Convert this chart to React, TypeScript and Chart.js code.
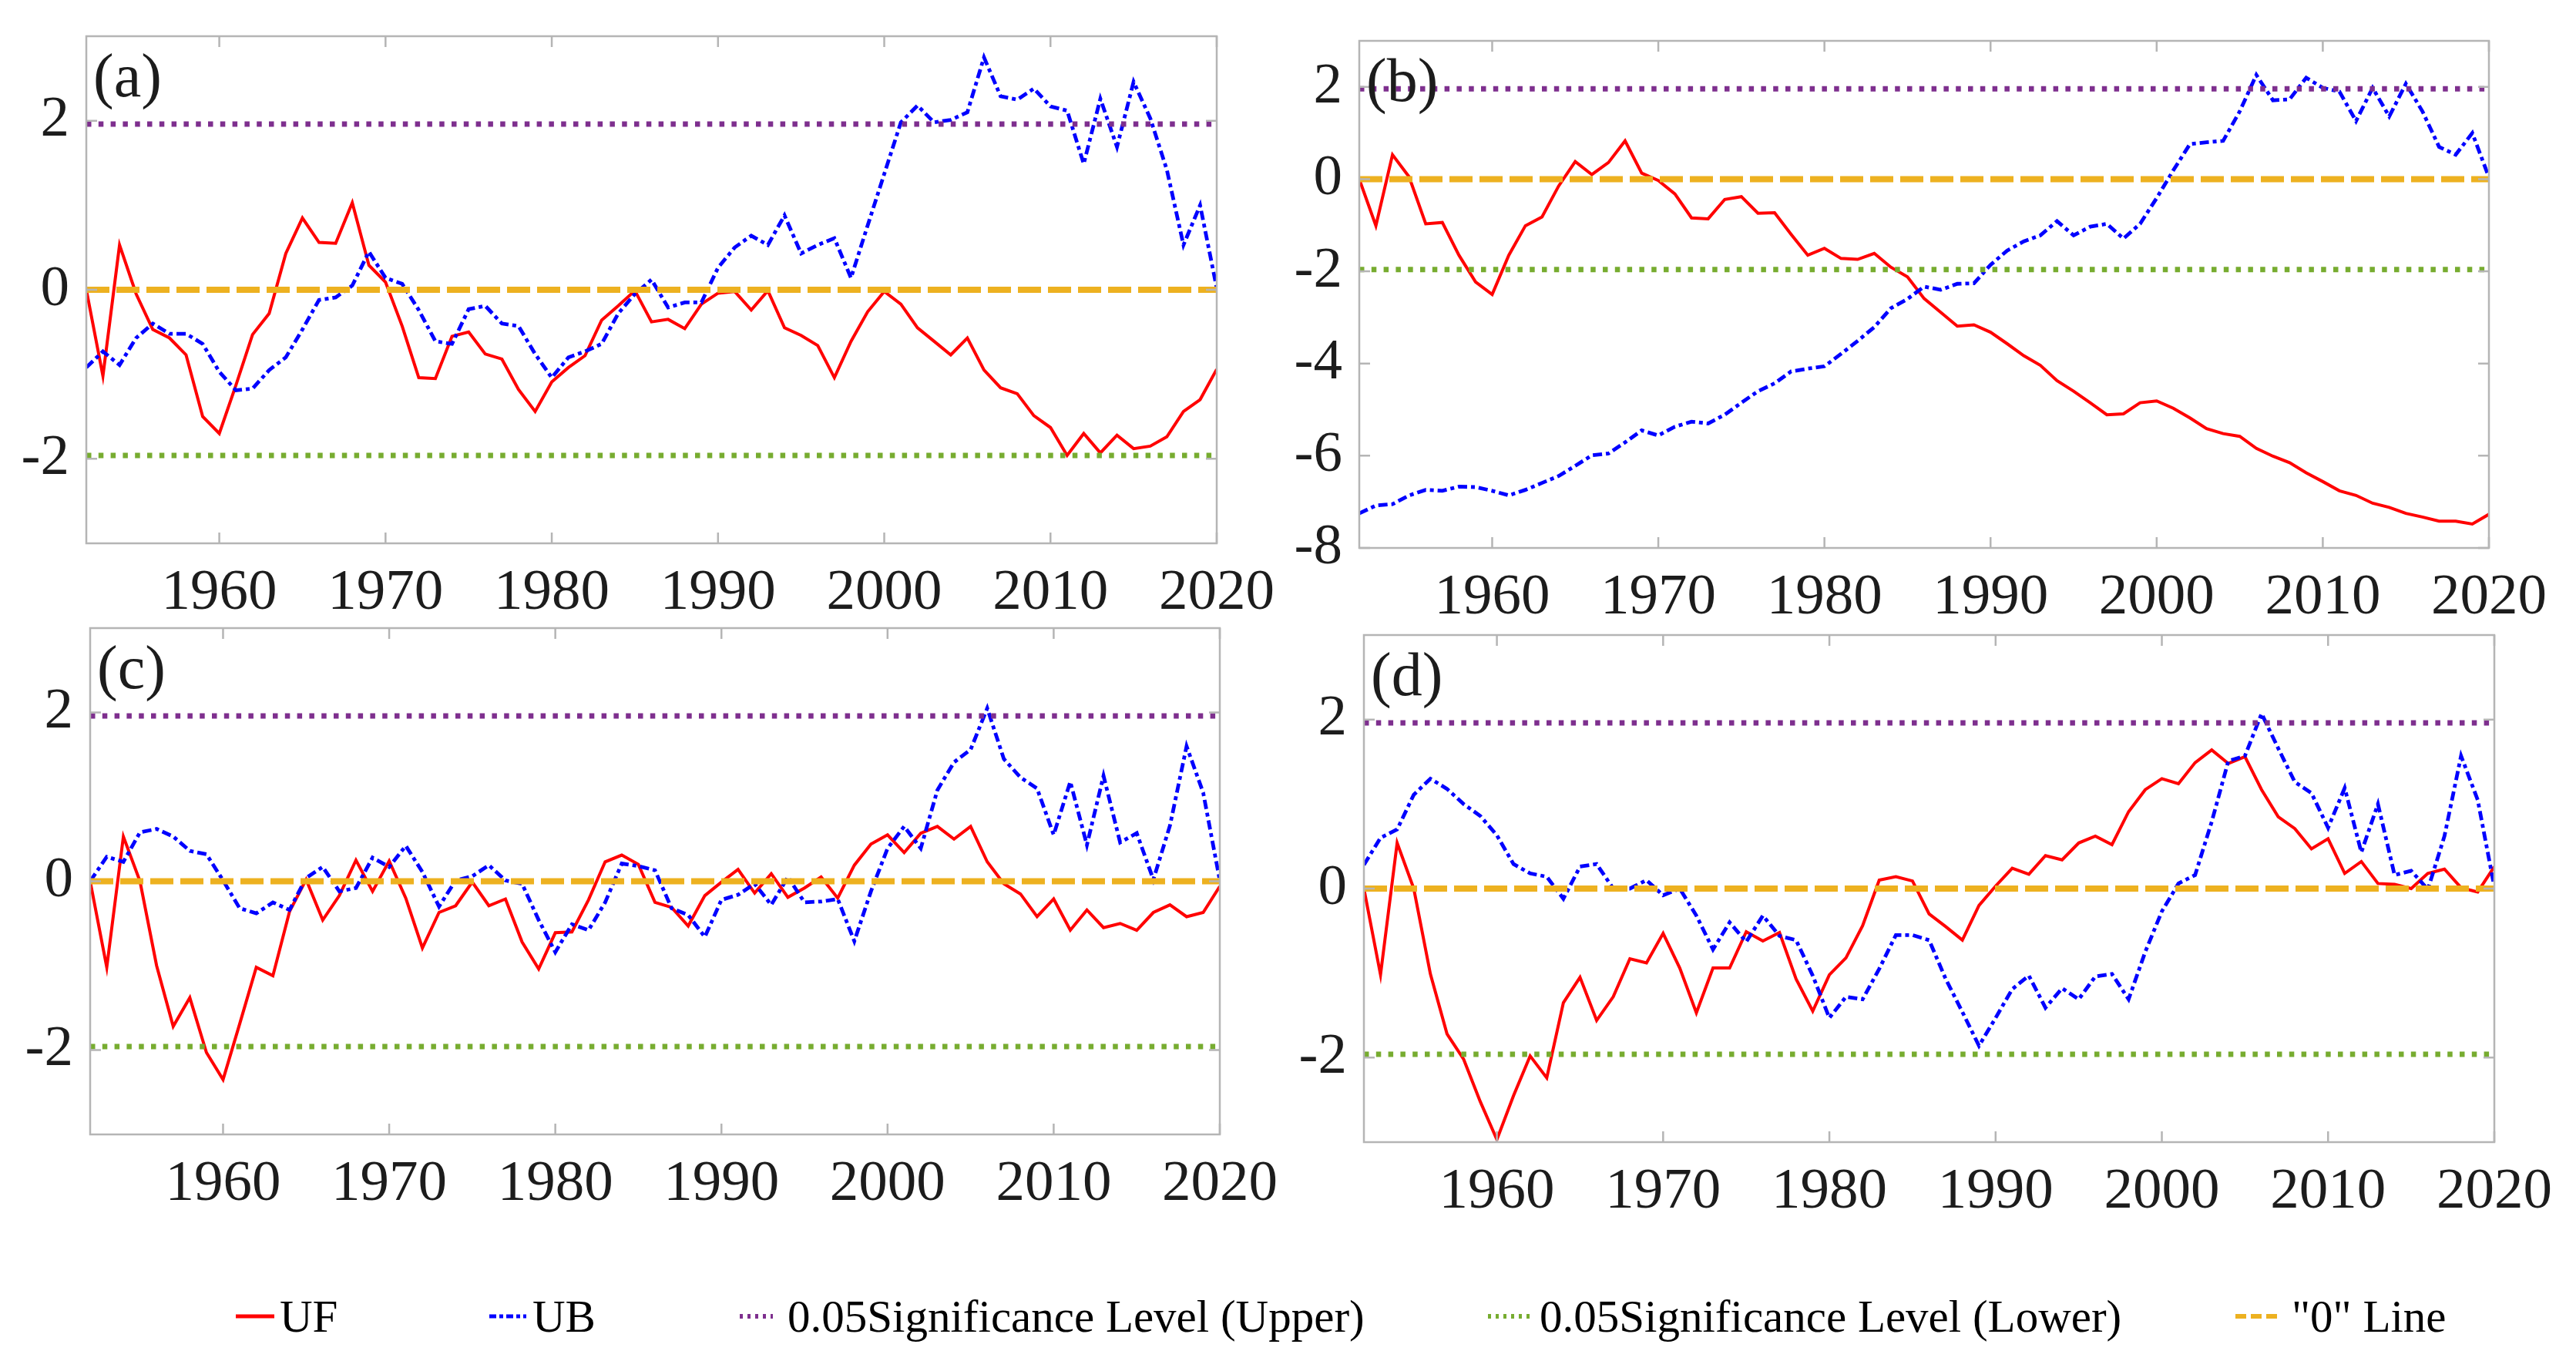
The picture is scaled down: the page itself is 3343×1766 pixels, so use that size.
import React, { useEffect, useRef } from "react";
import { Chart, registerables } from "chart.js";

Chart.register(...registerables);

// ---------------- data ----------------
const YEARS = [
  1952, 1953, 1954, 1955, 1956, 1957, 1958, 1959, 1960, 1961,
  1962, 1963, 1964, 1965, 1966, 1967, 1968, 1969, 1970, 1971,
  1972, 1973, 1974, 1975, 1976, 1977, 1978, 1979, 1980, 1981,
  1982, 1983, 1984, 1985, 1986, 1987, 1988, 1989, 1990, 1991,
  1992, 1993, 1994, 1995, 1996, 1997, 1998, 1999, 2000, 2001,
  2002, 2003, 2004, 2005, 2006, 2007, 2008, 2009, 2010, 2011,
  2012, 2013, 2014, 2015, 2016, 2017, 2018, 2019, 2020,
];

const A_UF = [
  0, -1.02, 0.53, -0.05, -0.47, -0.57, -0.77, -1.5, -1.7, -1.13,
  -0.53, -0.28, 0.43, 0.85, 0.56, 0.55, 1.03, 0.29, 0.09, -0.43,
  -1.04, -1.05, -0.55, -0.5, -0.76, -0.82, -1.18, -1.44, -1.09, -0.92,
  -0.78, -0.36, -0.19, -0.01, -0.38, -0.35, -0.46, -0.17, -0.04, -0.02,
  -0.24, -0.01, -0.45, -0.54, -0.66, -1.04, -0.61, -0.26, -0.02, -0.17,
  -0.45, -0.61, -0.77, -0.57, -0.95, -1.16, -1.23, -1.49, -1.63, -1.96,
  -1.7, -1.93, -1.72, -1.88, -1.85, -1.74, -1.44, -1.3, -0.94,
];
const A_UB = [
  -0.92, -0.73, -0.89, -0.57, -0.4, -0.52, -0.52, -0.64, -0.97, -1.19,
  -1.17, -0.95, -0.8, -0.47, -0.12, -0.09, 0.05, 0.45, 0.14, 0.07,
  -0.24, -0.61, -0.64, -0.23, -0.19, -0.4, -0.43, -0.76, -1.04, -0.8,
  -0.73, -0.64, -0.28, -0.05, 0.12, -0.21, -0.15, -0.15, 0.26, 0.5,
  0.64, 0.53, 0.88, 0.43, 0.53, 0.61, 0.14, 0.76, 1.37, 1.98,
  2.18, 1.98, 2.01, 2.1, 2.75, 2.29, 2.25, 2.38, 2.17, 2.12,
  1.49, 2.26, 1.69, 2.46, 2.03, 1.42, 0.53, 1.0, 0.02,
];

const B_UF = [
  0, -1.01, 0.53, 0.05, -0.97, -0.94, -1.65, -2.23, -2.5, -1.65,
  -1.01, -0.82, -0.15, 0.38, 0.1, 0.36, 0.83, 0.13, -0.03, -0.32,
  -0.84, -0.86, -0.44, -0.38, -0.74, -0.73, -1.2, -1.65, -1.5, -1.72,
  -1.74, -1.61, -1.91, -2.12, -2.59, -2.89, -3.19, -3.16, -3.32, -3.57,
  -3.83, -4.04, -4.37, -4.6, -4.85, -5.11, -5.09, -4.85, -4.81, -4.97,
  -5.18, -5.41, -5.52, -5.58, -5.84, -6.01, -6.15, -6.37, -6.56, -6.76,
  -6.86, -7.03, -7.12, -7.25, -7.33, -7.42, -7.42, -7.48, -7.27,
];
const B_UB = [
  -7.25, -7.08, -7.05, -6.86, -6.74, -6.76, -6.67, -6.68, -6.76, -6.86,
  -6.74, -6.59, -6.44, -6.22, -5.99, -5.95, -5.71, -5.45, -5.56, -5.37,
  -5.26, -5.3, -5.11, -4.85, -4.6, -4.43, -4.17, -4.11, -4.06, -3.79,
  -3.51, -3.21, -2.8, -2.6, -2.33, -2.4, -2.27, -2.26, -1.86, -1.55,
  -1.35, -1.22, -0.91, -1.22, -1.03, -0.97, -1.29, -0.97, -0.41, 0.19,
  0.76, 0.8, 0.83, 1.47, 2.26, 1.71, 1.73, 2.2, 1.98, 1.9,
  1.26, 1.98, 1.36, 2.07, 1.47, 0.7, 0.53, 1.0, 0.04,
];

const C_UF = [
  0, -1.02, 0.53, 0.0, -1.0, -1.72, -1.38, -2.03, -2.35, -1.69,
  -1.02, -1.12, -0.36, 0.02, -0.46, -0.17, 0.25, -0.12, 0.24, -0.2,
  -0.79, -0.37, -0.29, -0.01, -0.29, -0.21, -0.72, -1.04, -0.61, -0.6,
  -0.22, 0.23, 0.31, 0.2, -0.25, -0.31, -0.53, -0.17, -0.01, 0.14,
  -0.14, 0.09, -0.19, -0.08, 0.05, -0.2, 0.19, 0.44, 0.55, 0.34,
  0.57, 0.65, 0.5, 0.65, 0.23, -0.03, -0.15, -0.42, -0.21, -0.58,
  -0.34, -0.55, -0.5, -0.58, -0.37, -0.28, -0.42, -0.37, -0.06,
];
const C_UB = [
  0.0, 0.29, 0.23, 0.58, 0.62, 0.53, 0.36, 0.32, 0.01, -0.32,
  -0.38, -0.25, -0.34, 0.04, 0.17, -0.12, -0.08, 0.28, 0.17, 0.42,
  0.11, -0.3, 0.01, 0.06, 0.19, 0.01, -0.03, -0.46, -0.84, -0.51,
  -0.58, -0.25, 0.21, 0.18, 0.13, -0.32, -0.4, -0.66, -0.22, -0.16,
  -0.03, -0.28, 0.05, -0.25, -0.24, -0.21, -0.71, -0.12, 0.39, 0.65,
  0.39, 1.08, 1.41, 1.56, 2.05, 1.45, 1.23, 1.1, 0.55, 1.18,
  0.43, 1.25, 0.46, 0.57, 0.02, 0.66, 1.6, 1.05, 0.01,
];

const D_UF = [
  0, -1.02, 0.54, 0.0, -1.01, -1.72, -2.02, -2.52, -2.97, -2.45,
  -1.98, -2.24, -1.35, -1.05, -1.56, -1.28, -0.83, -0.88, -0.53, -0.94,
  -1.47, -0.94, -0.94, -0.51, -0.62, -0.52, -1.07, -1.45, -1.02, -0.82,
  -0.44, 0.1, 0.14, 0.09, -0.3, -0.45, -0.61, -0.2, 0.03, 0.24,
  0.17, 0.39, 0.34, 0.54, 0.62, 0.52, 0.91, 1.17, 1.3, 1.24,
  1.49, 1.64, 1.48, 1.56, 1.17, 0.85, 0.71, 0.47, 0.59, 0.18,
  0.32, 0.06, 0.05, 0.0, 0.18, 0.23, 0.01, -0.04, 0.26,
];
const D_UB = [
  0.28, 0.6, 0.7, 1.11, 1.3, 1.18, 1.0, 0.86, 0.63, 0.29,
  0.18, 0.14, -0.12, 0.26, 0.29, 0.0, 0.0, 0.1, -0.08, 0.0,
  -0.32, -0.72, -0.4, -0.63, -0.32, -0.56, -0.61, -1.03, -1.53, -1.28,
  -1.31, -0.95, -0.55, -0.55, -0.61, -1.07, -1.46, -1.86, -1.53, -1.19,
  -1.03, -1.41, -1.18, -1.31, -1.04, -1.01, -1.31, -0.75, -0.27, 0.06,
  0.16, 0.79, 1.51, 1.57, 2.07, 1.66, 1.26, 1.13, 0.72, 1.19,
  0.43, 1.0, 0.16, 0.21, -0.01, 0.62, 1.57, 1.05, 0.02,
];

const SIG_UPPER = 1.96;
const SIG_LOWER = -1.96;
const ZERO_LEVEL = 0;

const X_TICKS = [1960, 1970, 1980, 1990, 2000, 2010, 2020];
const Y_TICKS_STD = [-2, 0, 2];
const Y_TICKS_B = [-8, -6, -4, -2, 0, 2];

const PANEL_LABELS = ["(a)", "(b)", "(c)", "(d)"];
const LEGEND_LABELS = [
  "UF",
  "UB",
  "0.05Significance Level (Upper)",
  "0.05Significance Level (Lower)",
  '"0" Line',
];

// ---------------- styles / layout ----------------
const FONT = '"Liberation Serif", "Times New Roman", Times, serif';
const TEXT_COLOR = "#1c1c1c";
const FRAME_COLOR = "#b5b5b5";
const COLORS = {
  uf: "#ff0000",
  ub: "#0000ff",
  upper: "#7e2f8e",
  lower: "#77ac30",
  zero: "#edb120",
};
const DASH = {
  ub: [12, 5, 5, 5],
  dot: [6.5, 9.3],
  zero: [30, 9],
};

const Y_AXIS_W = 110;
const X_AXIS_H = 120;
const PAD_T = 90;
const PAD_R = 130;

type Box = { L: number; T: number; R: number; B: number };

const PANELS: {
  uf: number[];
  ub: number[];
  yMin: number;
  yMax: number;
  yTicks: number[];
  label: string;
  box: Box;
}[] = [
  { uf: A_UF, ub: A_UB, yMin: -3, yMax: 3, yTicks: Y_TICKS_STD, label: PANEL_LABELS[0], box: { L: 112, T: 47, R: 1579, B: 705 } },
  { uf: B_UF, ub: B_UB, yMin: -8, yMax: 3, yTicks: Y_TICKS_B, label: PANEL_LABELS[1], box: { L: 1764, T: 53, R: 3230, B: 711 } },
  { uf: C_UF, ub: C_UB, yMin: -3, yMax: 3, yTicks: Y_TICKS_STD, label: PANEL_LABELS[2], box: { L: 117, T: 815, R: 1583, B: 1472 } },
  { uf: D_UF, ub: D_UB, yMin: -3, yMax: 3, yTicks: Y_TICKS_STD, label: PANEL_LABELS[3], box: { L: 1770, T: 824, R: 3237, B: 1482 } },
];

function framePlugin(label: string) {
  return {
    id: "frame_" + label.replace(/[()]/g, ""),
    afterDraw(chart: any) {
      const { ctx, chartArea: a, scales } = chart;
      const xs = scales.x;
      const ys = scales.y;
      ctx.save();
      ctx.strokeStyle = FRAME_COLOR;
      ctx.lineWidth = 2.5;
      ctx.setLineDash([]);
      ctx.beginPath();
      const TL = 14;
      xs.ticks.forEach((t: any) => {
        const p = xs.getPixelForValue(t.value);
        ctx.moveTo(p, a.bottom);
        ctx.lineTo(p, a.bottom - TL);
        ctx.moveTo(p, a.top);
        ctx.lineTo(p, a.top + TL);
      });
      ys.ticks.forEach((t: any) => {
        const p = ys.getPixelForValue(t.value);
        ctx.moveTo(a.left, p);
        ctx.lineTo(a.left + TL, p);
        ctx.moveTo(a.right, p);
        ctx.lineTo(a.right - TL, p);
      });
      ctx.stroke();
      ctx.strokeRect(a.left, a.top, a.right - a.left, a.bottom - a.top);
      ctx.font = `80px ${FONT}`;
      ctx.fillStyle = TEXT_COLOR;
      ctx.textAlign = "left";
      ctx.textBaseline = "alphabetic";
      ctx.fillText(label, a.left + 9, a.top + 78);
      ctx.restore();
    },
  };
}

function Panel(props: (typeof PANELS)[number]) {
  const { uf, ub, yMin, yMax, yTicks, label, box } = props;
  const ref = useRef<HTMLCanvasElement>(null);
  const w = box.R - box.L + Y_AXIS_W + PAD_R;
  const h = box.B - box.T + PAD_T + X_AXIS_H;

  useEffect(() => {
    const pts = (vals: number[]) => YEARS.map((x, i) => ({ x, y: vals[i] }));
    const flat = (v: number) => [
      { x: YEARS[0], y: v },
      { x: YEARS[YEARS.length - 1], y: v },
    ];
    const tickFont = { family: FONT, size: 75 };
    const chart = new Chart(ref.current as HTMLCanvasElement, {
      type: "line",
      data: {
        datasets: [
          { label: LEGEND_LABELS[0], data: pts(uf), borderColor: COLORS.uf, borderWidth: 4, pointRadius: 0, order: 5 },
          { label: LEGEND_LABELS[1], data: pts(ub), borderColor: COLORS.ub, borderWidth: 4.8, borderDash: DASH.ub, pointRadius: 0, order: 4 },
          { label: LEGEND_LABELS[2], data: flat(SIG_UPPER), borderColor: COLORS.upper, borderWidth: 7, borderDash: DASH.dot, pointRadius: 0, order: 3 },
          { label: LEGEND_LABELS[3], data: flat(SIG_LOWER), borderColor: COLORS.lower, borderWidth: 7, borderDash: DASH.dot, pointRadius: 0, order: 2 },
          { label: LEGEND_LABELS[4], data: flat(ZERO_LEVEL), borderColor: COLORS.zero, borderWidth: 8, borderDash: DASH.zero, pointRadius: 0, order: 1 },
        ],
      } as any,
      options: {
        animation: false,
        responsive: false,
        devicePixelRatio: 1,
        layout: { padding: { top: PAD_T, right: PAD_R, left: 0, bottom: 0 } },
        plugins: { legend: { display: false }, tooltip: { enabled: false } },
        elements: { line: { tension: 0 } },
        scales: {
          x: {
            type: "linear",
            min: YEARS[0],
            max: YEARS[YEARS.length - 1],
            grid: { display: false, drawTicks: false },
            border: { display: false },
            afterBuildTicks: (s: any) => {
              s.ticks = X_TICKS.map((v) => ({ value: v }));
            },
            afterFit: (s: any) => {
              s.height = X_AXIS_H;
            },
            ticks: {
              font: tickFont,
              color: TEXT_COLOR,
              padding: 20,
              maxRotation: 0,
              autoSkip: false,
              callback: (v: any) => String(v),
            },
          },
          y: {
            type: "linear",
            min: yMin,
            max: yMax,
            grid: { display: false, drawTicks: false },
            border: { display: false },
            afterBuildTicks: (s: any) => {
              s.ticks = yTicks.map((v) => ({ value: v }));
            },
            afterFit: (s: any) => {
              s.width = Y_AXIS_W;
            },
            ticks: {
              font: tickFont,
              color: TEXT_COLOR,
              padding: 22,
              autoSkip: false,
              callback: (v: any) => String(v),
            },
          },
        },
      } as any,
      plugins: [framePlugin(label)],
    });
    return () => chart.destroy();
  }, []);

  return (
    <canvas
      ref={ref}
      width={w}
      height={h}
      style={{ position: "absolute", left: box.L - Y_AXIS_W, top: box.T - PAD_T, width: w, height: h }}
    />
  );
}

const LEGEND_ITEMS = [
  { mx: 306, mw: 50, tx: 363, color: COLORS.uf, dash: "", width: 5 },
  { mx: 635, mw: 48, tx: 691, color: COLORS.ub, dash: "9 4 5 4", width: 5 },
  { mx: 960, mw: 43, tx: 1022, color: COLORS.upper, dash: "4 6", width: 6 },
  { mx: 1931, mw: 58, tx: 1998, color: COLORS.lower, dash: "4 6", width: 6 },
  { mx: 2901, mw: 54, tx: 2974, color: COLORS.zero, dash: "14 6", width: 6 },
];
const LEGEND_Y = 1708;

function Legend() {
  return (
    <>
      {LEGEND_ITEMS.map((it, i) => (
        <React.Fragment key={i}>
          <svg
            width={it.mw}
            height={20}
            style={{ position: "absolute", left: it.mx, top: LEGEND_Y - 10 }}
          >
            <line
              x1={0}
              y1={10}
              x2={it.mw}
              y2={10}
              stroke={it.color}
              strokeWidth={it.width}
              strokeDasharray={it.dash || undefined}
            />
          </svg>
          <div
            style={{
              position: "absolute",
              left: it.tx,
              top: LEGEND_Y - 36,
              height: 72,
              lineHeight: "72px",
              fontSize: 59,
              fontFamily: FONT,
              color: "#000",
              whiteSpace: "nowrap",
            }}
          >
            {LEGEND_LABELS[i]}
          </div>
        </React.Fragment>
      ))}
    </>
  );
}

export default function App() {
  return (
    <div
      style={{
        position: "fixed",
        left: 0,
        top: 0,
        width: 3343,
        height: 1766,
        overflow: "hidden",
        background: "#ffffff",
      }}
    >
      {PANELS.map((p, i) => (
        <Panel key={i} {...p} />
      ))}
      <Legend />
    </div>
  );
}
